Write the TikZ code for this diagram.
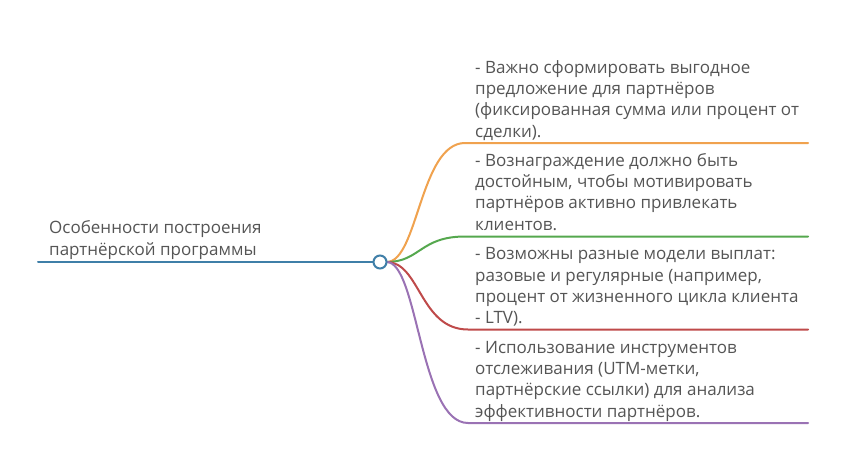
\documentclass[tikz,border=0pt]{standalone}
\usepackage{fontspec}
\setmainfont{Open Sans}
\definecolor{txt}{HTML}{555555}
\definecolor{cblue}{HTML}{3F7FA8}
\definecolor{corange}{HTML}{F0A24E}
\definecolor{cgreen}{HTML}{55A84E}
\definecolor{cred}{HTML}{BF4A4A}
\definecolor{cpurple}{HTML}{9A72B4}
\tikzset{
  lbl/.style={anchor=base west, inner sep=0pt, text=txt, font=\fontsize{17}{20}\selectfont},
  edge/.style={line width=2pt, line cap=round},
}
\begin{document}
\begin{tikzpicture}[x=1pt,y=-1pt]
\fill[white] (0,0) rectangle (847,474);
\useasboundingbox (0,0) rectangle (847,474);
% root
\node[lbl] (r1) at (49,233) {Особенности построения};
\node[lbl] (r2) at (49,255) {партнёрской программы};
\coordinate (rs) at (38,262);
\node[circle, minimum size=13pt, inner sep=0pt] (hub) at (380,262) {};
\draw[edge, cblue] (rs) -- (hub.west);
% ends
\coordinate (o1) at (465,143); \coordinate (o2) at (808,143);
\coordinate (g1) at (465,236.5); \coordinate (g2) at (808,236.5);
\coordinate (d1) at (468,329.5); \coordinate (d2) at (808,329.5);
\coordinate (p1) at (468,423); \coordinate (p2) at (808,423);
\draw[edge, corange] (hub.east) .. controls (418,262) and (420,143) .. (o1) -- (o2);
\draw[edge, cgreen] (hub.east) .. controls (420,262) and (420,236.5) .. (g1) -- (g2);
\draw[edge, cred] (hub.east) .. controls (420,262) and (420,329.5) .. (d1) -- (d2);
\draw[edge, cpurple] (hub.east) .. controls (418,262) and (420,423) .. (p1) -- (p2);
\draw[edge, cblue, fill=white] (hub.center) circle (6.5pt);
% block 1
\node[lbl] (a1) at (475,73) {- Важно сформировать выгодное};
\node[lbl] (a2) at (475,94.4) {предложение для партнёров};
\node[lbl] (a3) at (475,115.7) {(фиксированная сумма или процент от};
\node[lbl] (a4) at (475,137) {сделки).};
% block 2
\node[lbl] (b1) at (475,166) {- Вознаграждение должно быть};
\node[lbl] (b2) at (475,187.4) {достойным, чтобы мотивировать};
\node[lbl] (b3) at (475,208.7) {партнёров активно привлекать};
\node[lbl] (b4) at (475,230) {клиентов.};
% block 3
\node[lbl] (c1) at (475,259.5) {- Возможны разные модели выплат:};
\node[lbl] (c2) at (475,281) {разовые и регулярные (например,};
\node[lbl] (c3) at (475,302) {процент от жизненного цикла клиента};
\node[lbl] (c4) at (475,323.5) {- LTV).};
% block 4
\node[lbl] (e1) at (475,353) {- Использование инструментов};
\node[lbl] (e2) at (475,374.4) {отслеживания (UTM-метки,};
\node[lbl] (e3) at (475,395.7) {партнёрские ссылки) для анализа};
\node[lbl] (e4) at (475,417) {эффективности партнёров.};
\end{tikzpicture}
\end{document}
